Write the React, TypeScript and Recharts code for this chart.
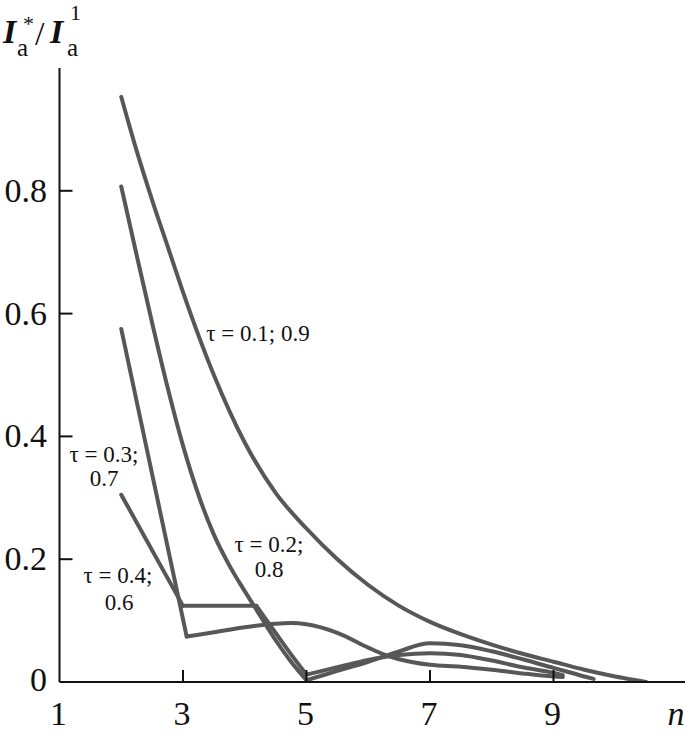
import React from 'react';
import { LineChart, Line, XAxis, YAxis, Customized } from 'recharts';

// x ticks / y ticks
const xTicks = [1, 3, 5, 7, 9];
const yTicks = [0, 0.2, 0.4, 0.6, 0.8];

// tau = 0.1; 0.9
const t01N = [2, 2.25, 2.5, 2.75, 3, 3.5, 4, 4.5, 5, 5.5, 6, 6.5, 7, 7.5, 8, 8.5, 9, 9.5, 10, 10.5];
const t01V = [0.953, 0.865, 0.785, 0.71, 0.635, 0.5, 0.39, 0.308, 0.25, 0.2, 0.158, 0.124, 0.098, 0.078, 0.061, 0.046, 0.033, 0.02, 0.009, 0];

// tau = 0.2; 0.8
const t02aN = [2, 2.25, 2.5, 2.75, 3, 3.25, 3.5, 3.75, 4, 4.25, 4.5, 4.75, 5];
const t02aV = [0.807, 0.695, 0.585, 0.48, 0.385, 0.305, 0.24, 0.19, 0.148, 0.108, 0.068, 0.033, 0.003];
const t02bN = [5, 5.5, 6, 6.5, 7, 7.5, 8, 8.5, 9, 9.5, 9.65];
const t02bV = [0.003, 0.018, 0.033, 0.05, 0.063, 0.06, 0.05, 0.037, 0.023, 0.009, 0.005];

// tau = 0.3; 0.7
const t03aN = [2, 3.06];
const t03aV = [0.575, 0.074];
const t03bN = [3.06, 3.5, 4, 4.5, 4.75, 5, 5.5, 6, 6.25, 6.5, 7, 7.5, 8, 8.5, 9, 9.15];
const t03bV = [0.074, 0.081, 0.089, 0.095, 0.096, 0.094, 0.08, 0.056, 0.045, 0.037, 0.028, 0.025, 0.02, 0.014, 0.009, 0.008];

// tau = 0.4; 0.6
const t04aN = [2, 3];
const t04aV = [0.305, 0.124];
const t04bN = [3, 4.19];
const t04bV = [0.124, 0.124];
const t04cN = [4.19, 4.5, 4.75, 5];
const t04cV = [0.124, 0.08, 0.045, 0.012];
const t04dN = [5, 5.5, 6, 6.5, 7, 7.5, 8, 8.5, 9, 9.15];
const t04dV = [0.012, 0.024, 0.036, 0.044, 0.047, 0.044, 0.035, 0.024, 0.015, 0.011];

const zip = (ns: number[], vs: number[]) => ns.map((n, i) => ({ n, v: vs[i] }));

const segments: { data: { n: number; v: number }[]; type: 'monotone' | 'linear' }[] = [
  { data: zip(t01N, t01V), type: 'monotone' },
  { data: zip(t02aN, t02aV), type: 'monotone' },
  { data: zip(t02bN, t02bV), type: 'monotone' },
  { data: zip(t03aN, t03aV), type: 'linear' },
  { data: zip(t03bN, t03bV), type: 'monotone' },
  { data: zip(t04aN, t04aV), type: 'linear' },
  { data: zip(t04bN, t04bV), type: 'linear' },
  { data: zip(t04cN, t04cV), type: 'monotone' },
  { data: zip(t04dN, t04dV), type: 'monotone' },
];

const FONT = '"Liberation Serif", "DejaVu Serif", serif';
const LINE = '#575757';

const XTick = (props: any) => {
  const { x, y, payload } = props;
  return (
    <g>
      {payload.value !== 1 && (
        <line x1={x} x2={x} y1={y} y2={y - 12} stroke="#111" strokeWidth={2} />
      )}
      <text x={x - 1} y={725} textAnchor="middle" fontSize={34} fontFamily={FONT} fill="#111">
        {payload.value}
      </text>
    </g>
  );
};

const YTick = (props: any) => {
  const { x, y, payload } = props;
  return (
    <g>
      {payload.value !== 0 && (
        <line x1={x} x2={x + 13} y1={y} y2={y} stroke="#111" strokeWidth={2} />
      )}
      <text x={47} y={payload.value === 0 ? y + 9 : y + 11} textAnchor="end" fontSize={34} fontFamily={FONT} fill="#111">
        {payload.value === 0 ? '0' : String(payload.value)}
      </text>
    </g>
  );
};

const Annotations = () => (
  <g fontFamily={FONT} fill="#111">
    {/* y axis title */}
    <text x={3} y={43} fontSize={34} fontStyle="italic" fontWeight="bold">I</text>
    <text x={23} y={31} fontSize={22}>*</text>
    <text x={17} y={56} fontSize={25}>a</text>
    <text x={35} y={45} fontSize={34}>/</text>
    <text x={50} y={43} fontSize={34} fontStyle="italic" fontWeight="bold">I</text>
    <text x={67} y={56} fontSize={25}>a</text>
    <text x={70} y={20} fontSize={22}>1</text>
    {/* x axis title */}
    <text x={676} y={725} fontSize={34} fontStyle="italic" textAnchor="middle">n</text>
    {/* curve labels */}
    <text x={258} y={341} fontSize={23} textAnchor="middle">τ = 0.1; 0.9</text>
    <text x={104} y={462} fontSize={23} textAnchor="middle">τ = 0.3;</text>
    <text x={104} y={486} fontSize={23} textAnchor="middle">0.7</text>
    <text x={269} y={552} fontSize={23} textAnchor="middle">τ = 0.2;</text>
    <text x={269} y={577} fontSize={23} textAnchor="middle">0.8</text>
    <text x={118} y={583} fontSize={23} textAnchor="middle">τ = 0.4;</text>
    <text x={119} y={610} fontSize={23} textAnchor="middle">0.6</text>
  </g>
);

export default function App() {
  return (
    <div style={{ position: 'absolute', left: 0, top: 0, background: '#fff' }}>
      <LineChart width={685} height={736} margin={{ top: 68, right: 0, bottom: 24, left: 0 }}>
        <XAxis
          type="number"
          dataKey="n"
          domain={[1, 11.13]}
          ticks={xTicks}
          interval={0}
          allowDataOverflow
          axisLine={{ stroke: '#111', strokeWidth: 2 }}
          tickLine={false}
          tickSize={0}
          tickMargin={0}
          tick={<XTick />}
          height={30}
        />
        <YAxis
          type="number"
          dataKey="v"
          domain={[0, 1]}
          ticks={yTicks}
          interval={0}
          allowDataOverflow
          axisLine={{ stroke: '#111', strokeWidth: 2 }}
          tickLine={false}
          tickSize={0}
          tickMargin={0}
          tick={<YTick />}
          width={59.5}
        />
        {segments.map((s, i) => (
          <Line
            key={i}
            data={s.data}
            dataKey="v"
            type={s.type}
            stroke={LINE}
            strokeWidth={4}
            strokeLinecap="round"
            strokeLinejoin="round"
            dot={false}
            activeDot={false}
            isAnimationActive={false}
          />
        ))}
        <Customized component={Annotations} />
      </LineChart>
    </div>
  );
}
